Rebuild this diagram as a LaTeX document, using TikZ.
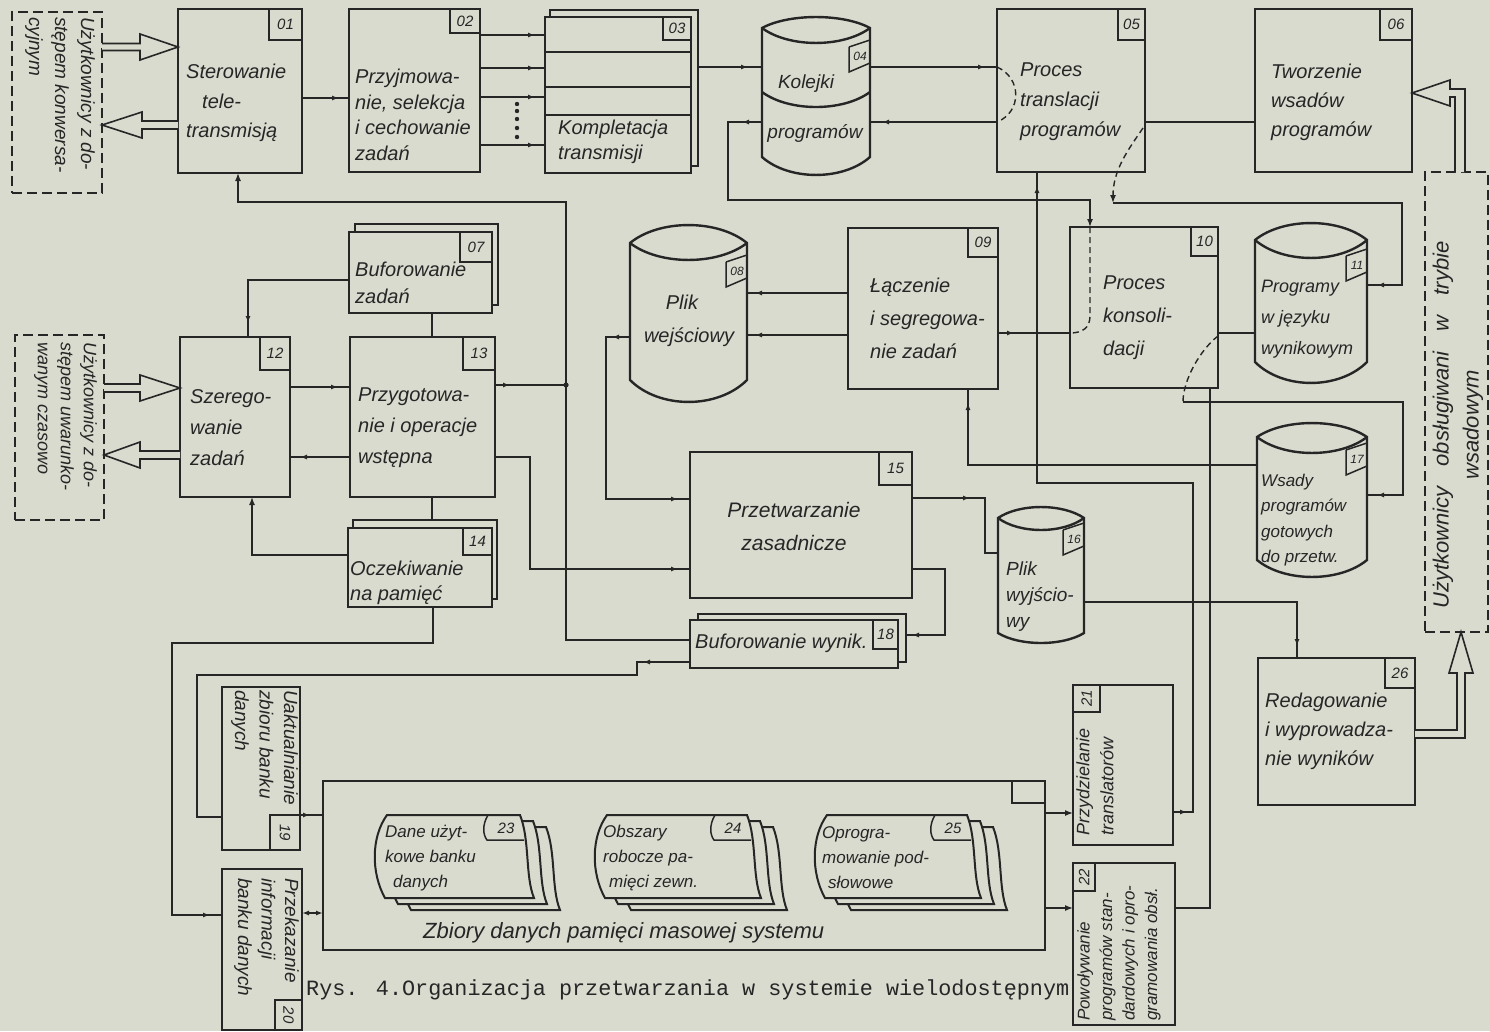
\documentclass[tikz,border=0pt]{standalone}
\usepackage{fontspec}
\setmainfont{Liberation Sans}
\newfontfamily\monof{Liberation Mono}
\usetikzlibrary{arrows.meta,decorations.markings,calc}
\pgfdeclarelayer{bg}
\pgfsetlayers{bg,main}
\definecolor{paper}{RGB}{217,219,207}
\definecolor{ink}{RGB}{38,38,38}
\newcommand\hf[2]{\fontsize{#1}{#2}\selectfont\itshape}
\newcommand\cylshape[7]{%
  \pgfmathsetmacro\cw{(#2-#1)/4}%
  \filldraw[draw=ink,line width=2.4pt,fill=paper]
    (#1,#3) .. controls ({#1+\cw},{#3-1.33*#4}) and ({#2-\cw},{#3-1.33*#4}) .. (#2,#3)
    -- (#2,#6) .. controls ({#2-\cw},{#6+1.33*#7}) and ({#1+\cw},{#6+1.33*#7}) .. (#1,#6) -- cycle;
  \draw[draw=ink,line width=2.4pt]
    (#1,#3) .. controls ({#1+\cw},{#3+1.33*#5}) and ({#2-\cw},{#3+1.33*#5}) .. (#2,#3);}
\newcommand\ctag[4]{%
  \draw[draw=ink,line width=1.5pt] ({#1-21},#2) -- ({#1-21},{#2+25}) -- (#1,{#2+16});
  \draw[draw=ink,line width=1.5pt] ({#1-21},#2) -- (#1,{#2-7});
  \node[font=\hf{12}{12},inner sep=0pt,text=ink] (#4) at ({#1-10},{#2+9}) {#3};}
\newcommand\sheetlayer[4]{%
  \filldraw[draw=ink,line width=2pt,fill=paper] ({#1+7},#2) -- (#3,#2)
   .. controls ({#3+10},{#2+25}) and ({#3+5},{#4-22}) .. ({#3+14},#4)
   -- ({#1+5},#4) .. controls ({#1-9},{#4-25}) and ({#1-9},{#2+22}) .. cycle;}
\newcommand\sheetstack[6]{%
  \begin{scope}[shift={(26,12)}]\sheetlayer{#1}{#2}{#3}{#4}\end{scope}
  \begin{scope}[shift={(13,6)}]\sheetlayer{#1}{#2}{#3}{#4}\end{scope}
  \sheetlayer{#1}{#2}{#3}{#4}
  \draw[draw=ink,line width=1.5pt] ({#3-32},#2) .. controls ({#3-38},{#2+10}) and ({#3-37},{#2+20}) .. ({#3-33},{#2+25}) -- ({#3+4},{#2+25});
  \node[font=\hf{15}{15},inner sep=0pt,text=ink] (#6) at ({#3-14},{#2+13}) {#5};}

\begin{document}
\begin{tikzpicture}[x=1pt,y=-1pt,
  box/.style={draw=ink,line width=2.4pt,fill=paper,inner sep=0pt,outer sep=0pt,anchor=north west},
  ghost/.style={inner sep=0pt,outer sep=0pt,anchor=north west},
  shad/.style={draw=ink,line width=2pt,fill=paper},
  numb/.style={draw=ink,line width=1.5pt,fill=paper,inner sep=0pt,outer sep=0pt,anchor=north east,font=\hf{15}{15},text=ink},
  ln/.style={draw=ink,line width=1.4pt},
  dsh/.style={draw=ink,line width=1.4pt,dash pattern=on 6pt off 4pt},
  ubox/.style={draw=ink,line width=2pt,dash pattern=on 10pt off 5pt,inner sep=0pt,outer sep=0pt,anchor=north west},
  txt/.style={align=left,inner sep=0pt,anchor=west,text=ink},
  ea/.style={-{Latex[length=8pt,width=6pt]}},
  mE/.style={postaction={decorate,decoration={markings,mark=at position -#1 with {\arrow{Latex[length=7pt,width=5pt]}}}}},
  mS/.style={postaction={decorate,decoration={markings,mark=at position #1 with {\arrow{Latex[length=7pt,width=5pt]}}}}},
  hollow/.style={draw=ink,line width=1.6pt,fill=paper,line join=miter}
]
\useasboundingbox (0,0) rectangle (1490,1031);

% ---------- user boxes (dashed)
\node[ubox,minimum width=90pt,minimum height=181pt] (u1) at (12,12) {};
\node[ubox,minimum width=89pt,minimum height=185pt] (u2) at (15,335) {};
\node[ubox,minimum width=63pt,minimum height=460pt] (u3) at (1425,172) {};

% ---------- stack shadows
\draw[shad] (550,10) rectangle (698,166);
\draw[shad] (355,224) rectangle (498,305);
\draw[shad] (353,520) rectangle (497,599);
\draw[shad] (698,614) rectangle (906,662);

% ---------- process boxes
\node[box,minimum width=124pt,minimum height=164pt] (n01) at (178,9) {};
\node[box,minimum width=131pt,minimum height=163pt] (n02) at (349,9) {};
\node[box,minimum width=146pt,minimum height=156pt] (n03) at (545,17) {};
\node[box,minimum width=148pt,minimum height=163pt] (n05) at (997,9) {};
\node[box,minimum width=157pt,minimum height=163pt] (n06) at (1255,9) {};
\node[box,minimum width=143pt,minimum height=81pt] (n07) at (349,232) {};
\node[box,minimum width=150pt,minimum height=161pt] (n09) at (848,228) {};
\node[box,minimum width=148pt,minimum height=161pt] (n10) at (1070,227) {};
\node[box,minimum width=110pt,minimum height=160pt] (n12) at (180,337) {};
\node[box,minimum width=145pt,minimum height=160pt] (n13) at (350,337) {};
\node[box,minimum width=144pt,minimum height=79pt] (n14) at (348,528) {};
\node[box,minimum width=222pt,minimum height=146pt] (n15) at (690,452) {};
\node[box,minimum width=208pt,minimum height=48pt] (n18) at (690,620) {};
\node[box,minimum width=78pt,minimum height=163pt] (n19) at (222,687) {};
\node[box,minimum width=80pt,minimum height=161pt] (n20) at (222,869) {};
\node[box,minimum width=100pt,minimum height=160pt] (n21) at (1073,685) {};
\node[box,minimum width=102pt,minimum height=162pt] (n22) at (1073,863) {};
\node[box,minimum width=157pt,minimum height=147pt] (n26) at (1258,658) {};
\node[box,minimum width=722pt,minimum height=169pt] (big) at (323,781) {};
\draw[draw=ink,line width=1.6pt] (1012,0 |- big.north) -- (1012,803) -- (big.east |- 0,803);

% dividers of 03
\foreach \yy in {52,87,115} \draw[draw=ink,line width=2pt] (n03.west |- 0,\yy) -- (n03.east |- 0,\yy);

% ---------- cylinders
\node[ghost,minimum width=108pt,minimum height=158pt] (c04) at (762,17) {};
\node[ghost,minimum width=117pt,minimum height=177pt] (c08) at (630,225) {};
\node[ghost,minimum width=112pt,minimum height=160pt] (c11) at (1255,223) {};
\node[ghost,minimum width=86pt,minimum height=137pt] (c16) at (998,506) {};
\node[ghost,minimum width=110pt,minimum height=154pt] (c17) at (1257,423) {};
\cylshape{762}{870}{28}{11}{15}{157}{18}
\draw[draw=ink,line width=2.4pt] (762,92) .. controls (789,112) and (843,112) .. (870,92);
\cylshape{630}{747}{243}{18}{17}{380}{22}
\cylshape{1255}{1367}{240}{17}{18}{362}{21}
\cylshape{998}{1084}{518}{11}{12}{633}{10}
\cylshape{1257}{1367}{437}{14}{16}{560}{17}
\ctag{870}{47}{04}{k04}
\ctag{747}{262}{08}{k08}
\ctag{1367}{256}{11}{k11}
\ctag{1084}{530}{16}{k16}
\ctag{1367}{450}{17}{k17}

% ---------- number boxes
\node[numb,minimum width=33pt,minimum height=31pt] (k01) at (n01.north east) {01};
\node[numb,minimum width=30pt,minimum height=24pt] (k02) at (n02.north east) {02};
\node[numb,minimum width=28pt,minimum height=23pt] (k03) at (n03.north east) {03};
\node[numb,minimum width=27pt,minimum height=31pt] (k05) at (n05.north east) {05};
\node[numb,minimum width=32pt,minimum height=31pt] (k06) at (n06.north east) {06};
\node[numb,minimum width=32pt,minimum height=30pt] (k07) at (n07.north east) {07};
\node[numb,minimum width=30pt,minimum height=29pt] (k09) at (n09.north east) {09};
\node[numb,minimum width=27pt,minimum height=29pt] (k10) at (n10.north east) {10};
\node[numb,minimum width=30pt,minimum height=33pt] (k12) at (n12.north east) {12};
\node[numb,minimum width=32pt,minimum height=33pt] (k13) at (n13.north east) {13};
\node[numb,minimum width=29pt,minimum height=27pt] (k14) at (n14.north east) {14};
\node[numb,minimum width=33pt,minimum height=33pt] (k15) at (n15.north east) {15};
\node[numb,minimum width=25pt,minimum height=29pt] (k18) at (n18.north east) {18};
\node[numb,minimum width=30pt,minimum height=30pt] (k26) at (n26.north east) {26};
\node[numb,anchor=south east,minimum width=30pt,minimum height=35pt] (k19) at (n19.south east) {};
\node[rotate=-90,font=\hf{15}{15},inner sep=0pt,text=ink] (l19) at (k19.center) {19};
\node[numb,anchor=south east,minimum width=27pt,minimum height=30pt] (k20) at (n20.south east) {};
\node[rotate=-90,font=\hf{15}{15},inner sep=0pt,text=ink] (l20) at (k20.center) {20};
\node[numb,anchor=north west,minimum width=27pt,minimum height=27pt] (k21) at (n21.north west) {};
\node[rotate=90,font=\hf{15}{15},inner sep=0pt,text=ink] (l21) at (k21.center) {21};
\node[numb,anchor=north west,minimum width=22pt,minimum height=28pt] (k22) at (n22.north west) {};
\node[rotate=90,font=\hf{15}{15},inner sep=0pt,text=ink] (l22) at (k22.center) {22};

% ---------- sheet stacks in mass storage
\sheetstack{380}{815}{520}{898}{23}{k23}
\sheetstack{600}{815}{747}{898}{24}{k24}
\sheetstack{820}{815}{967}{898}{25}{k25}

% ---------- texts
\node[txt,font=\hf{20}{29.5}] (t01) at (186,103) {Sterowanie\\\hspace*{16pt}tele-\\transmisją};
\node[txt,font=\hf{20}{25.5}] (t02) at (355,115) {Przyjmowa-\\nie, selekcja\\i cechowanie\\zadań};
\node[txt,font=\hf{20}{25}] (t03) at (558,142) {Kompletacja\\transmisji};
\node[font=\hf{19}{19},inner sep=0pt,text=ink] (t04a) at (806,84) {Kolejki};
\node[font=\hf{19}{19},inner sep=0pt,text=ink] (t04b) at (815,133) {programów};
\node[txt,font=\hf{20}{30}] (t05) at (1020,102) {Proces\\translacji\\programów};
\node[txt,font=\hf{20}{29}] (t06) at (1271,102) {Tworzenie\\wsadów\\programów};
\node[txt,font=\hf{20}{27}] (t07) at (355,283) {Buforowanie\\zadań};
\node[font=\hf{20}{20},inner sep=0pt,text=ink] (t08a) at (682,302) {Plik};
\node[font=\hf{20}{20},inner sep=0pt,text=ink] (t08b) at (689,337) {wejściowy};
\node[txt,font=\hf{20}{33}] (t09) at (870,318) {Łączenie\\i segregowa-\\nie zadań};
\node[txt,font=\hf{20}{33}] (t10) at (1103,318) {Proces\\konsoli-\\dacji};
\node[txt,font=\hf{18}{31}] (t11) at (1261,319) {Programy\\w języku\\wynikowym};
\node[txt,font=\hf{20}{31}] (t12) at (190,428) {Szerego-\\wanie\\zadań};
\node[txt,font=\hf{20}{31}] (t13) at (358,428) {Przygotowa-\\nie i operacje\\wstępna};
\node[txt,font=\hf{20}{25}] (t14) at (350,583) {Oczekiwanie\\na pamięć};
\node[align=center,inner sep=0pt,text=ink,font=\hf{21}{33}] (t15) at (794,526) {Przetwarzanie\\zasadnicze};
\node[txt,font=\hf{19}{26}] (t16) at (1006,597) {Plik\\wyjścio-\\wy};
\node[txt,font=\hf{17}{25.5}] (t17) at (1261,520) {Wsady\\programów\\gotowych\\do przetw.};
\node[txt,font=\hf{20}{20}] (t18) at (695,643) {Buforowanie wynik.};
\node[txt,anchor=north west,rotate=-90,font=\hf{19}{24.5}] (t19) at (298,690) {Uaktualnianie\\zbioru banku\\danych};
\node[txt,anchor=north west,rotate=-90,font=\hf{19}{23.5}] (t20) at (299,878) {Przekazanie\\informacji\\banku danych};
\node[txt,anchor=north west,rotate=90,font=\hf{18}{24}] (t21) at (1076,836) {Przydzielanie\\translatorów};
\node[txt,anchor=north west,rotate=90,font=\hf{17}{22.5}] (t22) at (1077,1021) {Powoływanie\\programów stan-\\dardowych i opro-\\gramowania obsł.};
\node[txt,font=\hf{20}{29}] (t26) at (1265,731) {Redagowanie\\i wyprowadza-\\nie wyników};
\node[txt,anchor=north west,rotate=-90,font=\hf{19}{26}] (tu1) at (95,17) {Użytkownicy z do-\\stępem konwersa-\\cyjnym};
\node[txt,anchor=north west,rotate=-90,font=\hf{18}{23}] (tu2) at (97,342) {Użytkownicy z do-\\stępem uwarunko-\\wanym czasowo};
\node[align=center,inner sep=0pt,text=ink,rotate=90,font=\hf{22}{30}] (tu3) at (1458,425) {Użytkownicy\hspace{14pt} obsługiwani\hspace{14pt} w\hspace{14pt} trybie\\wsadowym};
\node[txt,font=\hf{17}{25}] (s23) at (385,858) {Dane użyt-\\kowe banku\\\hspace*{8pt}danych};
\node[txt,font=\hf{17}{25}] (s24) at (603,858) {Obszary\\robocze pa-\\\hspace*{6pt}mięci zewn.};
\node[txt,font=\hf{17}{25}] (s25) at (822,858) {Oprogra-\\mowanie pod-\\\hspace*{6pt}słowowe};
\node[txt,font=\hf{22}{22}] (tz) at (423,933) {Zbiory danych pamięci masowej systemu};
\node[anchor=west,inner sep=0pt,text=ink,font=\monof\fontsize{21.8}{22}\selectfont] (cap) at (306,990) {Rys. 4.Organizacja przetwarzania w systemie wielodostępnym};

% ---------- internal dashed paths
\coordinate (s05) at (1143,128);
\coordinate (d05) at (1113,203);
\coordinate (d10) at (1183,402);
\draw[dsh] (n05.west |- 0,67) .. controls (1022,78) and (1022,112) .. (n05.west |- 0,122);
\draw[dsh] (1090,0 |- n10.north) -- (1090,316) .. controls (1090,328) and (1082,333) .. (n10.west |- 0,333);
\draw[dsh,-{Latex[length=8pt,width=6pt]}] (s05) .. controls (1128,150) and (1113,170) .. (d05);
\draw[dsh] (n10.east |- 0,336) .. controls (1200,350) and (1183,380) .. (d10);

% ---------- hollow arrows
\filldraw[hollow] (u1.east |- 0,43.5) -- (140,43.5) -- (140,34) -- (n01.west |- 0,47) -- (140,60) -- (140,50.5) -- (u1.east |- 0,50.5);
\filldraw[hollow] (n01.west |- 0,121) -- (142,121) -- (142,112) -- (u1.east |- 0,125) -- (142,138) -- (142,129) -- (n01.west |- 0,129);
\filldraw[hollow] (u2.east |- 0,384) -- (140,384) -- (140,375) -- (n12.west |- 0,388) -- (140,401) -- (140,392) -- (u2.east |- 0,392);
\filldraw[hollow] (n12.west |- 0,451) -- (140,451) -- (140,442) -- (u2.east |- 0,455) -- (140,468) -- (140,459) -- (n12.west |- 0,459);
\filldraw[hollow] (1455,0 |- u3.north) -- (1455,97) -- (1450,97) -- (1450,106) -- (n06.east |- 0,93) -- (1450,80) -- (1450,89) -- (1465,89) -- (1465,0 |- u3.north);
\filldraw[hollow] (n26.east |- 0,730) -- (1457,730) -- (1457,673) -- (1449,673) -- (1461,0 |- u3.south) -- (1473,673) -- (1465,673) -- (1465,738) -- (n26.east |- 0,738);

% ---------- connectors (background layer)
\begin{pgfonlayer}{bg}
\fill[paper] (0,0) rectangle (1490,1031);
\draw[ln,mE=10pt] (n01.east |- 0,98) -- (n02.west |- 0,98);
\foreach \yy in {35,68,97,145} \draw[ln,mE=10pt] (n02.east |- 0,\yy) -- (n03.west |- 0,\yy);
\foreach \yy in {104,111,119,128,137} \fill[ink] (517,\yy) circle (2.2pt);
\draw[ln,mE=14pt] (n03.east |- 0,67) -- (c04.west |- 0,67);
\draw[ln,mE=12pt] (c04.east |- 0,67) -- (n05.west |- 0,67);
\draw[ln,mE=12pt] (n05.west |- 0,122) -- (c04.east |- 0,122);
\draw[ln,mS=20pt,ea] (c04.west |- 0,122) -- (728,122) -- (728,200) -- (1090,200) -- (1090,0 |- n10.north);
\draw[ln,mS=16pt] (n09.east |- 0,333) -- (n10.west |- 0,333);
\draw[ln] (n10.east |- 0,333) -- (c11.west |- 0,333);
\draw[ln,mE=10pt] (d10) -- (1403,402) -- (1403,495) -- (c17.east |- 0,495);
\draw[ln] (n05.east |- 0,122) -- (n06.west |- 0,122);
\draw[ln,mE=10pt] (d05) -- (1402,203) -- (1402,285) -- (c11.east |- 0,285);
\draw[ln,mE=14pt] (c17.west |- 0,465) -- (968,465) -- (968,0 |- n09.south);
\draw[ln,mS=14pt,mE=14pt] (n21.east |- 0,812) -- (1193,812) -- (1193,483) -- (1037,483) -- (1037,0 |- n05.south);
\draw[ln] (n22.east |- 0,908) -- (1210,908) -- (1210,0 |- n10.south);
\draw[ln,mS=58pt] (n15.east |- 0,498) -- (985,498) -- (985,553) -- (c16.west |- 0,553);
\draw[ln,mE=12pt] (c16.east |- 0,602) -- (1297,602) -- (1297,0 |- n26.north);
\draw[ln,mE=14pt] (n15.east |- 0,569) -- (945,569) -- (945,635) -- (n18.east |- 0,635);
\draw[ln,mS=47pt] (n18.west |- 0,662) -- (637,662) -- (637,675) -- (197,675) -- (197,817) -- (n19.west |- 0,817);
\draw[ln,ea] (n18.west |- 0,640) -- (566,640) -- (566,202) -- (238,202) -- (238,0 |- n01.south);
\draw[ln,mS=15pt] (n13.east |- 0,385) -- (566,385);
\fill[ink] (566,385) circle (2.6pt);
\draw[ln,mS=18pt,mE=12pt] (c08.west |- 0,337) -- (606,337) -- (606,499) -- (n15.west |- 0,499);
\draw[ln,mE=12pt] (n13.east |- 0,457) -- (530,457) -- (530,569) -- (n15.west |- 0,569);
\draw[ln,mE=8pt] (n09.west |- 0,293) -- (c08.east |- 0,293);
\draw[ln,mE=8pt] (n09.west |- 0,335) -- (c08.east |- 0,335);
\draw[ln,mE=14pt] (n07.west |- 0,280) -- (248,280) -- (248,0 |- n12.north);
\draw[ln] (432,0 |- n07.south) -- (432,0 |- n13.north);
\draw[ln] (432,0 |- n13.south) -- (432,0 |- n14.north);
\draw[ln,ea] (n14.west |- 0,555) -- (252,555) -- (252,0 |- n12.south);
\draw[ln,mE=12pt] (433,0 |- n14.south) -- (433,643) -- (172,643) -- (172,915) -- (n20.west |- 0,915);
\draw[ln,mE=12pt] (n12.east |- 0,387) -- (n13.west |- 0,387);
\draw[ln,mE=10pt] (n13.west |- 0,457) -- (n12.east |- 0,457);
\draw[ln,mS=10pt] (n19.east |- 0,815) -- (big.west |- 0,815);
\draw[ln,{Latex[length=7pt,width=5pt]}-{Latex[length=7pt,width=5pt]}] (n20.east |- 0,913) -- (big.west |- 0,913);
\draw[ln,ea] (big.east |- 0,813) -- (n21.west |- 0,813);
\draw[ln,ea] (big.east |- 0,908) -- (n22.west |- 0,908);
\end{pgfonlayer}
\end{tikzpicture}
\end{document}
